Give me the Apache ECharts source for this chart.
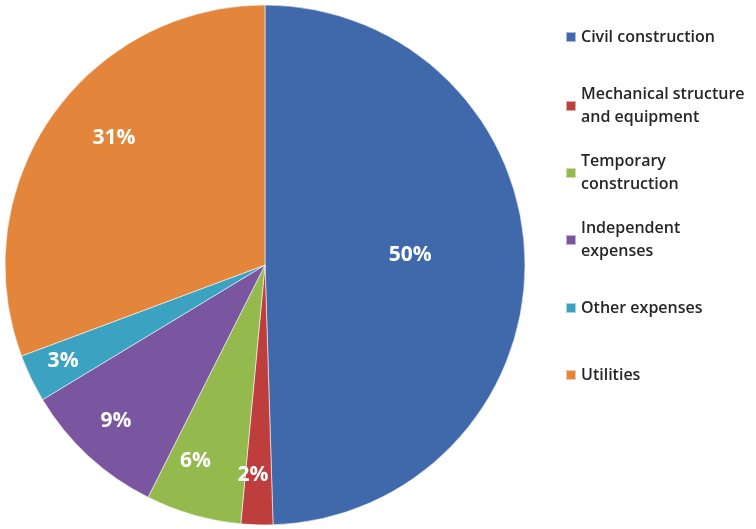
<!DOCTYPE html>
<html>
<head>
<meta charset="utf-8">
<script src="https://cdn.jsdelivr.net/npm/echarts@6/dist/echarts.min.js"></script>
<style>
  html, body { margin: 0; padding: 0; background: #ffffff; }
  #chart { width: 756px; height: 529px; }
</style>
</head>
<body>
<div id="chart"></div>
<script>
// Cost structure shares (%)
const categories = [
  'Civil construction',
  'Mechanical structure\nand equipment',
  'Temporary\nconstruction',
  'Independent\nexpenses',
  'Other expenses',
  'Utilities'
];
const shares = [50, 2, 6, 9, 3, 31];

const sliceColors = ['#4069AC', '#BE3D3D', '#94B94C', '#7A55A0', '#3CA2C2', '#E3863C'];

// Label placement: fraction of the radius, and a small clockwise turn in degrees
const labelRadius = [0.56, 0.81, 0.80, 0.83, 0.86, 0.76];
const labelTurn = [-3, 1.5, 3.5, 0.9, 0.4, 5.4];

// Legend rows: vertical centre of each swatch
const legendIconY = [37, 106, 173, 240, 308, 375];

const pieCenter = [265, 265];
const pieRadius = 260;
const legendLineHeight = 23;

const chart = echarts.init(document.getElementById('chart'), null, { renderer: 'canvas' });

const legends = categories.map(function (name, i) {
  const twoLine = name.indexOf('\n') >= 0;
  return {
    orient: 'vertical',
    left: 565,
    top: twoLine ? legendIconY[i] - legendLineHeight * 1.5 : legendIconY[i] - legendLineHeight / 2,
    padding: 0,
    itemGap: 0,
    itemWidth: 10,
    itemHeight: 10,
    icon: 'rect',
    selectedMode: false,
    data: [name],
    textStyle: {
      fontFamily: 'Open Sans',
      fontWeight: 600,
      fontSize: 16,
      color: '#262626',
      lineHeight: legendLineHeight,
      padding: twoLine ? [legendLineHeight, 0, 0, 0] : 0
    }
  };
});

const total = shares.reduce(function (a, b) { return a + b; }, 0);

chart.setOption({
  animation: false,
  backgroundColor: '#ffffff',
  color: sliceColors,
  legend: legends,
  series: [{
    type: 'pie',
    center: pieCenter,
    radius: pieRadius,
    startAngle: 90,
    clockwise: true,
    avoidLabelOverlap: false,
    emphasis: { disabled: true },
    itemStyle: { borderColor: 'rgba(255,255,255,0.55)', borderWidth: 1 },
    label: {
      show: true,
      position: 'inside',
      formatter: function (p) { return p.value + '%'; },
      color: '#ffffff',
      fontFamily: 'Open Sans',
      fontWeight: 'bold',
      fontSize: 21
    },
    labelLine: { show: false },
    labelLayout: function (p) {
      const i = p.dataIndex;
      let before = 0;
      for (let k = 0; k < i; k++) before += shares[k];
      const deg = (before + shares[i] / 2) / total * 360 + labelTurn[i];
      const rad = deg * Math.PI / 180;
      const r = pieRadius * labelRadius[i];
      return {
        x: pieCenter[0] + r * Math.sin(rad),
        y: pieCenter[1] - r * Math.cos(rad)
      };
    },
    data: categories.map(function (name, i) {
      return { name: name, value: shares[i] };
    })
  }]
});
</script>
</body>
</html>
